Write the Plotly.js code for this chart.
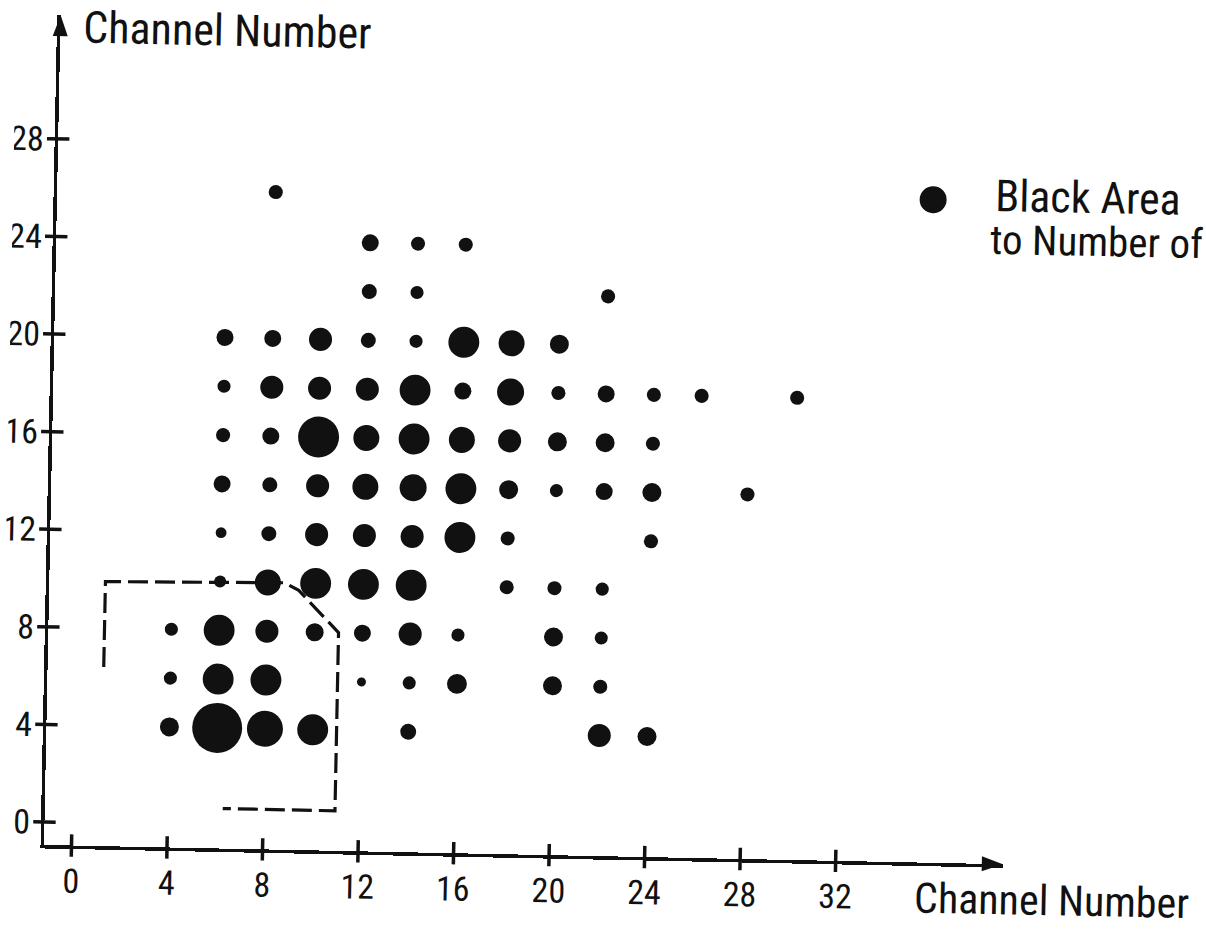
<!DOCTYPE html>
<html>
<head>
<meta charset="utf-8">
<script src="https://cdn.plot.ly/plotly-3.0.1.min.js"></script>
<style>
  html, body { margin: 0; padding: 0; background: #fff; overflow: hidden; width: 1206px; height: 936px; }
  /* the sheet sits slightly turned, pivoting on the axes' corner */
  #sheet { width: 1206px; height: 936px; transform: rotate(1.15deg); transform-origin: 44.5px 845px; }
</style>
</head>
<body>
<div id="sheet"><div id="chart" style="width:1206px;height:936px;"></div></div>
<script>
// Channel pairs (x channel, y channel) and the black-dot area for each,
// area in relative units (dot area proportional to number of hits)
const chX = [
  8,
  12, 14, 16,
  12, 14, 22,
  6, 8, 10, 12, 14, 16, 18, 20,
  6, 8, 10, 12, 14, 16, 18, 20, 22, 24, 26, 30,
  6, 8, 10, 12, 14, 16, 18, 20, 22, 24,
  6, 8, 10, 12, 14, 16, 18, 20, 22, 24, 28,
  6, 8, 10, 12, 14, 16, 18, 24,
  6, 8, 10, 12, 14, 18, 20, 22,
  4, 6, 8, 10, 12, 14, 16, 20, 22,
  4, 6, 8, 12, 14, 16, 20, 22,
  4, 6, 8, 10, 14, 22, 24
];
const chY = [
  26,
  24, 24, 24,
  22, 22, 22,
  20, 20, 20, 20, 20, 20, 20, 20,
  18, 18, 18, 18, 18, 18, 18, 18, 18, 18, 18, 18,
  16, 16, 16, 16, 16, 16, 16, 16, 16, 16,
  14, 14, 14, 14, 14, 14, 14, 14, 14, 14, 14,
  12, 12, 12, 12, 12, 12, 12, 12,
  10, 10, 10, 10, 10, 10, 10, 10,
  8, 8, 8, 8, 8, 8, 8, 8, 8,
  6, 6, 6, 6, 6, 6, 6, 6,
  4, 4, 4, 4, 4, 4, 4
];
const hitArea = [
  2.2,
  3.2, 2.2, 2.2,
  2.5, 1.9, 2.2,
  3.2, 3.2, 5.9, 2.5, 1.9, 10.6, 7.5, 4.0,
  1.9, 5.9, 5.9, 5.9, 10.6, 3.2, 8.1, 2.2, 3.2, 2.2, 2.2, 2.2,
  2.2, 3.2, 18.6, 7.5, 10.6, 7.5, 5.9, 4.0, 4.0, 2.2,
  3.2, 2.5, 5.9, 7.5, 8.1, 10.6, 4.0, 1.9, 3.2, 4.0, 2.2,
  1.3, 2.5, 5.9, 5.9, 5.9, 10.6, 2.2, 2.2,
  1.6, 7.5, 10.6, 10.6, 10.6, 2.2, 2.2, 1.9,
  1.9, 10.6, 5.9, 3.6, 3.2, 5.9, 1.9, 4.0, 1.9,
  1.9, 10.6, 10.6, 0.9, 1.9, 4.4, 4.0, 2.2,
  4.0, 27.7, 14.4, 10.6, 2.8, 5.9, 4.0
];

// Dashed boundary around the low-channel cluster
const boundaryX = [1.2, 1.2, 8.7, 9.3, 11.0, 11.0, 6.3];
const boundaryY = [6.4, 9.9, 10.0, 9.7, 8.0, 0.7, 0.7];

// Axis ticks
const xTicks = [0, 4, 8, 12, 16, 20, 24, 28, 32];
const yTicks = [0, 4, 8, 12, 16, 20, 24, 28];
const axisTitle = 'Channel Number';
const legendLines = ['Black Area', 'to Number of'];

const xRange = [-1.151, 39.0];
const yRange = [-0.94, 33.07];

const INK = '#111111';
const FONT = "'Liberation Sans Narrow', 'Roboto Condensed', 'Noto Sans Condensed', 'Open Sans Condensed', 'DejaVu Sans Condensed', 'Liberation Sans', sans-serif";

const traces = [
  {
    type: 'scatter', mode: 'markers', x: chX, y: chY, cliponaxis: false,
    marker: { size: hitArea, sizemode: 'area', sizeref: 2 / 90.25, color: INK, opacity: 1, line: { width: 0 } },
    hoverinfo: 'x+y'
  },
  {
    type: 'scatter', mode: 'lines', x: boundaryX, y: boundaryY, cliponaxis: false,
    line: { color: INK, width: 3.2, dash: '20px,7px' }, hoverinfo: 'skip'
  },
  {
    // crossing tick marks on the vertical axis
    type: 'scatter', mode: 'markers', x: yTicks.map(() => xRange[0]), y: yTicks, cliponaxis: false,
    marker: { symbol: 'line-ew', size: 16, line: { width: 3.5, color: INK } }, hoverinfo: 'skip'
  },
  {
    // crossing tick marks on the horizontal axis
    type: 'scatter', mode: 'markers', x: xTicks, y: xTicks.map(() => yRange[0]), cliponaxis: false,
    marker: { symbol: 'line-ns', size: 16, line: { width: 3.5, color: INK } }, hoverinfo: 'skip'
  }
];

const W = 1206, H = 936;
const L = 44, T = 15, PW = 959, PH = 830;
const px = (sx) => (sx - L) / PW;          // page x -> paper x
const py = (sy) => (T + PH - sy) / PH;     // page y -> paper y

const tickFont = { family: FONT, size: 34, color: INK };
const titleFont = { family: FONT, size: 44, color: INK };
const xTitleFont = { family: FONT, size: 42, color: INK };
const keyFont = { family: FONT, size: 44, color: INK };
const keyFont2 = { family: FONT, size: 41, color: INK };

const layout = {
  width: W, height: H,
  margin: { l: L, r: W - L - PW, t: T, b: H - T - PH, pad: 0 },
  paper_bgcolor: '#ffffff', plot_bgcolor: '#ffffff',
  showlegend: false,
  font: { family: FONT, color: INK },
  xaxis: {
    range: xRange, showgrid: false, zeroline: false,
    showline: true, linecolor: INK, linewidth: 3.5,
    tickmode: 'array', tickvals: xTicks, ticktext: xTicks.map(String),
    ticks: 'outside', ticklen: 3, tickcolor: 'rgba(0,0,0,0)',
    tickfont: tickFont
  },
  yaxis: {
    range: yRange, showgrid: false, zeroline: false,
    showline: true, linecolor: INK, linewidth: 3.5,
    tickmode: 'array', tickvals: yTicks, ticktext: yTicks.map(String),
    ticks: 'outside', ticklen: 4, tickcolor: 'rgba(0,0,0,0)',
    tickfont: tickFont
  },
  shapes: [
    // arrowheads closing both axes
    { type: 'path', xref: 'paper', yref: 'paper', xsizemode: 'pixel', ysizemode: 'pixel',
      xanchor: 1, yanchor: 0, path: 'M0,0 L-21,7.5 L-21,-7.5 Z',
      fillcolor: INK, line: { width: 0 } },
    { type: 'path', xref: 'paper', yref: 'paper', xsizemode: 'pixel', ysizemode: 'pixel',
      xanchor: 0, yanchor: 1, path: 'M0,0 L-7.5,-21 L7.5,-21 Z',
      fillcolor: INK, line: { width: 0 } },
    // key dot
    { type: 'circle', xref: 'paper', yref: 'paper', xsizemode: 'pixel', ysizemode: 'pixel',
      xanchor: px(920), yanchor: py(182), x0: -13.5, x1: 13.5, y0: -13.5, y1: 13.5,
      fillcolor: INK, line: { width: 0 } }
  ],
  annotations: [
    { text: axisTitle, xref: 'paper', yref: 'paper', x: px(65), y: py(27),
      xanchor: 'left', yanchor: 'middle', showarrow: false, font: titleFont },
    { text: axisTitle, xref: 'paper', yref: 'paper', x: px(1052), y: py(880),
      xanchor: 'center', yanchor: 'middle', showarrow: false, font: xTitleFont },
    { text: legendLines[0], xref: 'paper', yref: 'paper', x: px(980), y: py(177),
      xanchor: 'left', yanchor: 'middle', showarrow: false, font: keyFont },
    { text: legendLines[1], xref: 'paper', yref: 'paper', x: px(976), y: py(221),
      xanchor: 'left', yanchor: 'middle', showarrow: false, font: keyFont2 }
  ]
};

Plotly.newPlot('chart', traces, layout, { displayModeBar: false, staticPlot: true });
</script>
</body>
</html>
